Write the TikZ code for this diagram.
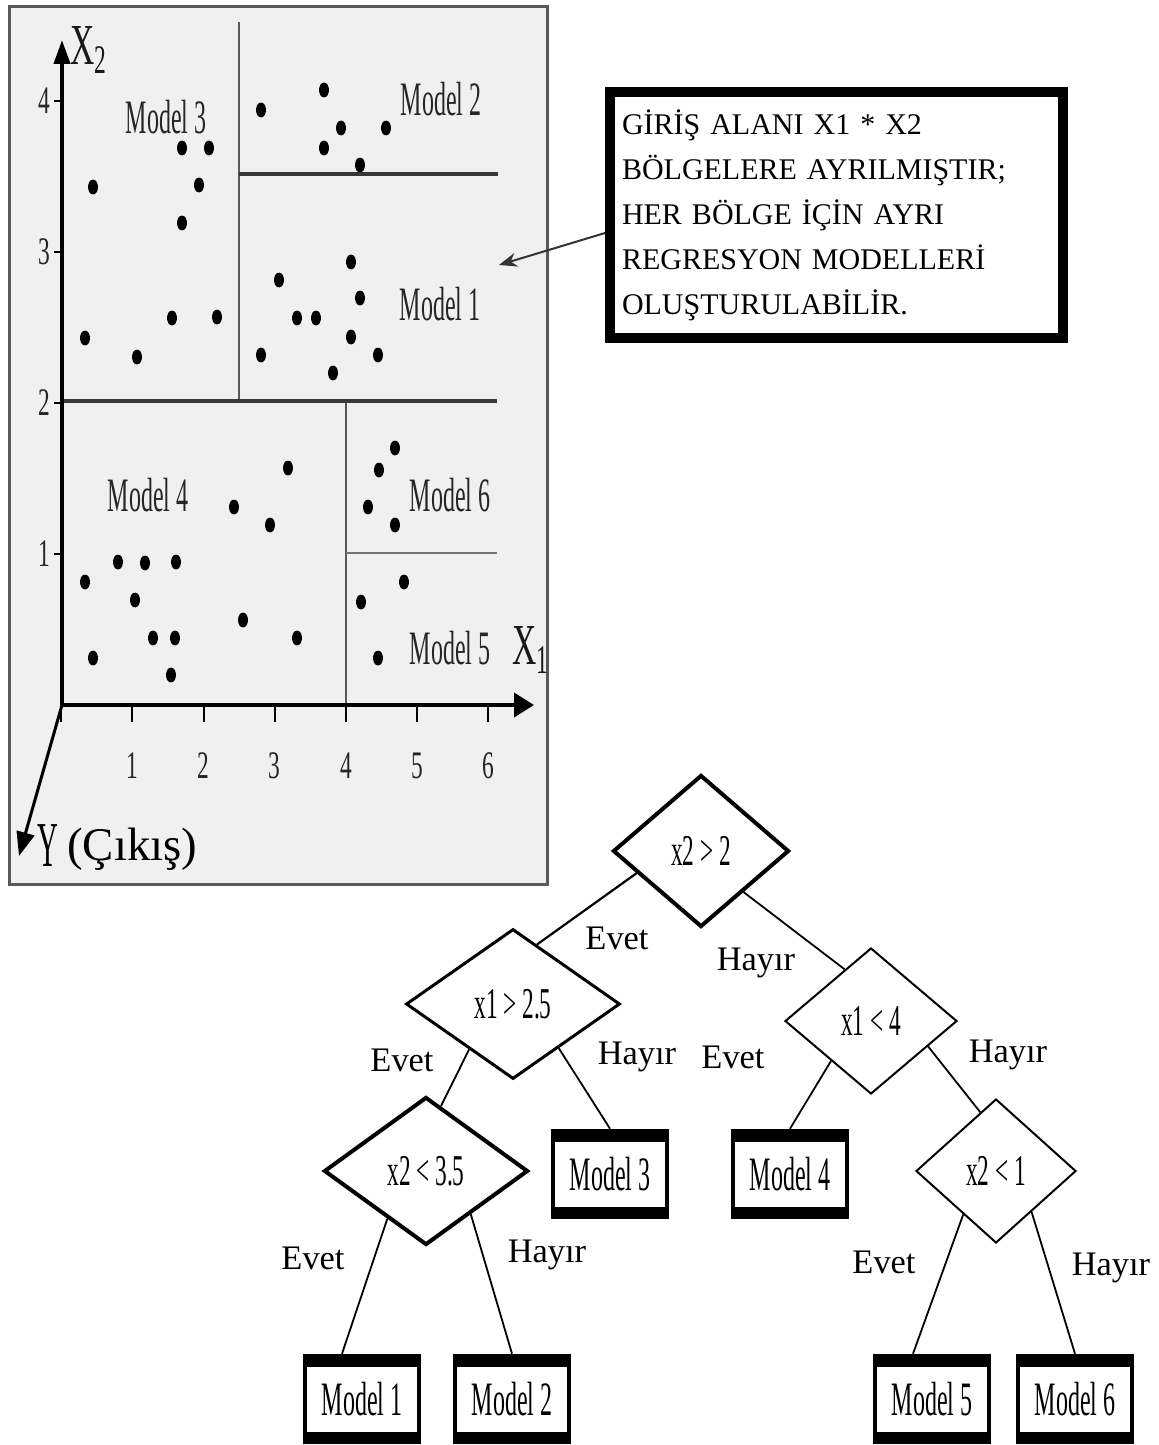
\documentclass[tikz,border=0pt]{standalone}
\usepackage{fontspec}
\setmainfont{Liberation Serif}
\usepackage{graphicx}
\usetikzlibrary{shapes.geometric,arrows.meta}
\newcommand\cnd[2][0.5]{\scalebox{#1}[1]{#2}}
\begin{document}
\begin{tikzpicture}[x=0.5pt,y=-0.5pt,
  plotlbl/.style={font=\fontsize{24}{24}\selectfont, text=black!85, inner sep=0},
  ticklbl/.style={font=\fontsize{19.5}{20}\selectfont, text=black!85, inner sep=0},
  dec/.style={diamond, draw, aspect=1.15, inner sep=0, font=\fontsize{22}{24}\selectfont},
  modelbox/.style={rectangle, draw, line width=2.3pt, minimum width=57pt, minimum height=43pt, inner sep=0, font=\fontsize{24}{24}\selectfont},
  edge/.style={line width=0.9pt},
  elbl/.style={font=\fontsize{17.2}{18}\selectfont, inner sep=0},
  part/.style={line width=2pt, black!78},
  thinpart/.style={line width=1pt, black!65},
]
\useasboundingbox (0,0) rectangle (1158,1445);

% ---------- plot panel ----------
\draw[black!65, line width=1.5pt, fill=black!6] (9.5,6.5) rectangle (547.5,884.5);

% partition lines
\draw[thinpart] (239,22) -- (239,401);
\draw[thinpart] (346,401) -- (346,705);
\draw[part] (62,401) -- (497,401);
\draw[part] (239,174) -- (498,174);
\draw[line width=1.3pt, black!55] (346,553) -- (497,553);

% axes
\draw[line width=2pt, -{Triangle[length=12pt,width=8pt]}] (62,706) -- (62,40);
\draw[line width=2pt, -{Triangle[length=10pt,width=12pt]}] (60,705) -- (534,705);
\draw[line width=1.5pt, -{Triangle[length=12pt,width=9pt]}] (62,705) -- (19,856);

% ticks and tick labels
\foreach \i in {0,...,6} \draw[line width=1pt] ({61.2+71.2*\i},705) -- ++(0,17);
\foreach \i in {1,...,6} \node[ticklbl] (tx\i) at ({61.2+71.2*\i},766) {\cnd[0.6]{\i}};
\foreach \j in {1,...,4} {
  \draw[line width=1pt] (54,{705-151*\j}) -- (62,{705-151*\j});
  \node[ticklbl] (ty\j) at (44,{705-151*\j}) {\cnd[0.6]{\j}};
}

% axis labels
\node[inner sep=0, font=\fontsize{29}{30}\selectfont, text=black!90] (x2lbl) at (89,50) {\cnd[0.58]{X\textsubscript{2}}};
\node[inner sep=0, font=\fontsize{29}{30}\selectfont, text=black!90] (x1lbl) at (531,650) {\cnd[0.58]{X\textsubscript{1}}};
\node[inner sep=0, font=\fontsize{32}{32}\selectfont, anchor=base] (ylbl) at (48,866) {\cnd[0.45]{Y}};
\node[inner sep=0, font=\fontsize{23.4}{24}\selectfont, anchor=base west] (cikis) at (67,860) {(Çıkış)};

% data points
\foreach \px/\py in {93/187,182/148,209/148,199/185,182/223,172/318,217/317,85/338,137/357,
  261/110,324/90,341/128,324/148,386/128,360/165,
  351/262,279/280,360/298,297/318,316/318,351/337,261/355,378/355,333/373,
  288/468,234/507,270/525,118/562,145/563,176/562,85/582,135/600,243/620,153/638,175/638,297/638,93/658,171/675,
  395/448,379/470,368/507,395/525,
  404/582,361/602,378/658}
  \fill (\px,\py) ellipse [x radius=2.5pt, y radius=3.7pt];

% region labels
\node[plotlbl] (r3) at (166,117) {\cnd{Model 3}};
\node[plotlbl] (r2) at (441,99) {\cnd{Model 2}};
\node[plotlbl] (r1) at (440,304) {\cnd{Model 1}};
\node[plotlbl] (r4) at (148,495) {\cnd{Model 4}};
\node[plotlbl] (r6) at (450,495) {\cnd{Model 6}};
\node[plotlbl] (r5) at (450,648) {\cnd{Model 5}};

% ---------- callout ----------
\node[draw, line width=5pt, minimum width=226.5pt, minimum height=123pt,
      text width=214.5pt, align=left, inner xsep=6pt,
      font=\fontsize{15}{22.5}\selectfont] (callout) at (836.5,215)
  {GİRİŞ ALANI X1 * X2\\ BÖLGELERE AYRILMIŞTIR;\\ HER BÖLGE İÇİN AYRI\\ REGRESYON MODELLERİ\\ OLUŞTURULABİLİR.};
\coordinate (tip) at (499,265);
\draw[line width=1pt, black!80, -{Stealth[length=9pt,width=7pt]}] ([yshift=-9pt]callout.west) -- (tip);

% ---------- decision tree ----------
\node[dec, line width=2pt, minimum width=88pt, minimum height=76pt] (A) at (701,851) {\cnd[0.53]{x2 > 2}};
\node[dec, line width=1.5pt, minimum width=107pt, minimum height=75pt] (B) at (513,1004) {\cnd[0.53]{x1 > 2.5}};
\node[dec, line width=1pt, minimum width=86pt, minimum height=73pt] (C) at (871,1021) {\cnd[0.53]{x1 < 4}};
\node[dec, line width=2pt, minimum width=102pt, minimum height=74pt] (D) at (426,1171) {\cnd[0.53]{x2 < 3.5}};
\node[dec, line width=1pt, minimum width=80pt, minimum height=72pt] (E) at (996,1171) {\cnd[0.53]{x2 < 1}};

\node[modelbox] (M3) at (610,1174) {\cnd{Model 3}};
\node[modelbox] (M4) at (790,1174) {\cnd{Model 4}};
\node[modelbox] (M1) at (362,1399) {\cnd{Model 1}};
\node[modelbox] (M2) at (512,1399) {\cnd{Model 2}};
\node[modelbox] (M5) at (932,1399) {\cnd{Model 5}};
\node[modelbox] (M6) at (1075,1399) {\cnd{Model 6}};
\foreach \m in {M1,M2,M3,M4,M5,M6} {
  \fill (\m.north west) rectangle ([yshift=-6.5pt]\m.north east);
  \fill (\m.south west) rectangle ([yshift=6pt]\m.south east);
}

\draw[edge, line width=1.1pt] (A.199) -- (B.68);
\draw[edge] (A.316) -- (C.117);
\draw[edge] (B.226) -- (D.77);
\draw[edge] (B.316) -- (M3.north);
\draw[edge] (C.225) -- (M4.north);
\draw[edge] (C.336) -- (E.105);
\draw[edge] (D.231) -- ([xshift=-10pt]M1.north);
\draw[edge] (D.316) -- (M2.north);
\draw[edge] (E.233) -- ([xshift=-9.5pt]M5.north);
\draw[edge] (E.311) -- (M6.north);

\node[elbl] (l1) at (617,938) {Evet};
\node[elbl] (l2) at (756,963) {Hayır};
\node[elbl] (l3) at (402,1060) {Evet};
\node[elbl] (l4) at (637,1057) {Hayır};
\node[elbl] (l5) at (733,1057) {Evet};
\node[elbl] (l6) at (1008,1055) {Hayır};
\node[elbl] (l7) at (313,1258) {Evet};
\node[elbl] (l8) at (547,1255) {Hayır};
\node[elbl] (l9) at (884,1262) {Evet};
\node[elbl] (l10) at (1111,1268) {Hayır};
\end{tikzpicture}
\end{document}
